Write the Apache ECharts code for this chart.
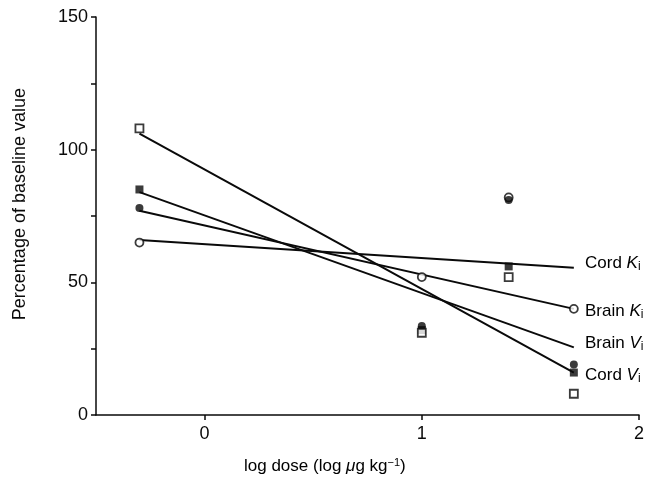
<!DOCTYPE html>
<html>
<head>
<meta charset="utf-8">
<script src="https://cdn.jsdelivr.net/npm/echarts@6/dist/echarts.min.js"></script>
<style>html,body{margin:0;padding:0;background:#fff;}#c{width:659px;height:483px;}</style>
</head>
<body>
<div id="c"></div>
<script>
// Observed data points (log dose, % of baseline)
const doses = [-0.3, 1, 1.4, 1.7];
const cordKi = [65, 52, 82, 40];      // open circles
const brainKi = [78, 33.5, 81, 19];   // filled circles
const brainVi = [85, 32, 56, 16];     // filled squares
const cordVi = [108, 31, 52, 8];      // open squares
// Fitted line endpoints (at x = -0.3 and 1.7)
const lineX = [-0.3, 1.7];
const cordKiLine = [66, 55.5];
const brainKiLine = [77, 40];
const brainViLine = [84, 25.5];
const cordViLine = [106, 16];
const xTicks = [0, 1, 2];
const yTicks = [0, 50, 100, 150];

const pts = ys => doses.map((d, i) => [d, ys[i]]);
const ln = ys => lineX.map((d, i) => [d, ys[i]]);
const F = '"Liberation Sans", Arial, Helvetica, sans-serif';
const INK = '#0a0a0a';

const lineSeries = [cordKiLine, brainKiLine, brainViLine, cordViLine].map(y => ({
  type: 'line', data: ln(y), symbol: 'none', silent: true, z: 2,
  lineStyle: { color: INK, width: 2 }
}));
const sc = (ys, symbol, fill) => ({
  type: 'scatter', data: pts(ys), symbol: symbol, symbolSize: 8, z: 3,
  itemStyle: { color: fill, borderColor: INK, borderWidth: fill === '#fff' ? 1.8 : 0 }
});

const rich = {
  n: { fontFamily: F, fontSize: 17, color: INK },
  i: { fontFamily: F, fontSize: 17, fontStyle: 'italic', color: INK },
  s: { fontFamily: F, fontSize: 12, color: INK, verticalAlign: 'bottom', padding: [6, 0, 0, 0] }
};
const lbl = (name, letter, y) => ({
  type: 'text', left: 585, top: y - 10,
  style: { text: '{n|' + name + ' }{i|' + letter + '}{s|i}', rich: rich }
});

const chart = echarts.init(document.getElementById('c'));
chart.setOption({
  animation: false,
  grid: { left: 96, right: 20, top: 17, bottom: 68 },
  xAxis: {
    type: 'value', min: -0.5, max: 2, interval: 0.5,
    axisLine: { onZero: false, lineStyle: { color: INK, width: 1.5 } },
    axisTick: { customValues: xTicks, length: 5, lineStyle: { color: INK, width: 1.5 } },
    axisLabel: { customValues: xTicks, color: INK, fontSize: 18, fontFamily: F, margin: 10 },
    splitLine: { show: false }
  },
  yAxis: {
    type: 'value', min: 0, max: 150, interval: 25,
    axisLine: { show: true, onZero: false, lineStyle: { color: INK, width: 1.5 } },
    axisTick: { show: true, length: 5, lineStyle: { color: INK, width: 1.5 } },
    axisLabel: { customValues: yTicks, color: INK, fontSize: 18, fontFamily: F, margin: 8 },
    splitLine: { show: false }
  },
  graphic: [
    { type: 'text', left: 11, top: 88, rotation: Math.PI / 2,
      style: { text: 'Percentage of baseline value', fontFamily: F, fontSize: 18, fill: INK } },
    { type: 'text', left: 244, top: 457,
      style: { text: '{n|log dose (log }{i|\u03bc}{n|g kg}{s2|\u22121}{n|)}',
        rich: { n: { fontFamily: F, fontSize: 17, color: INK },
                i: { fontFamily: F, fontSize: 17, fontStyle: 'italic', color: INK },
                s2: { fontFamily: F, fontSize: 11, color: INK, verticalAlign: 'top', padding: [0, 0, 7, 0] } } } },
    lbl('Cord', 'K', 265),
    lbl('Brain', 'K', 313),
    lbl('Brain', 'V', 345),
    lbl('Cord', 'V', 377)
  ],
  series: lineSeries.concat([
    sc(cordKi, 'circle', '#fff'),
    sc(brainKi, 'circle', INK),
    sc(brainVi, 'rect', INK),
    sc(cordVi, 'rect', '#fff')
  ])
});
</script>
</body>
</html>
